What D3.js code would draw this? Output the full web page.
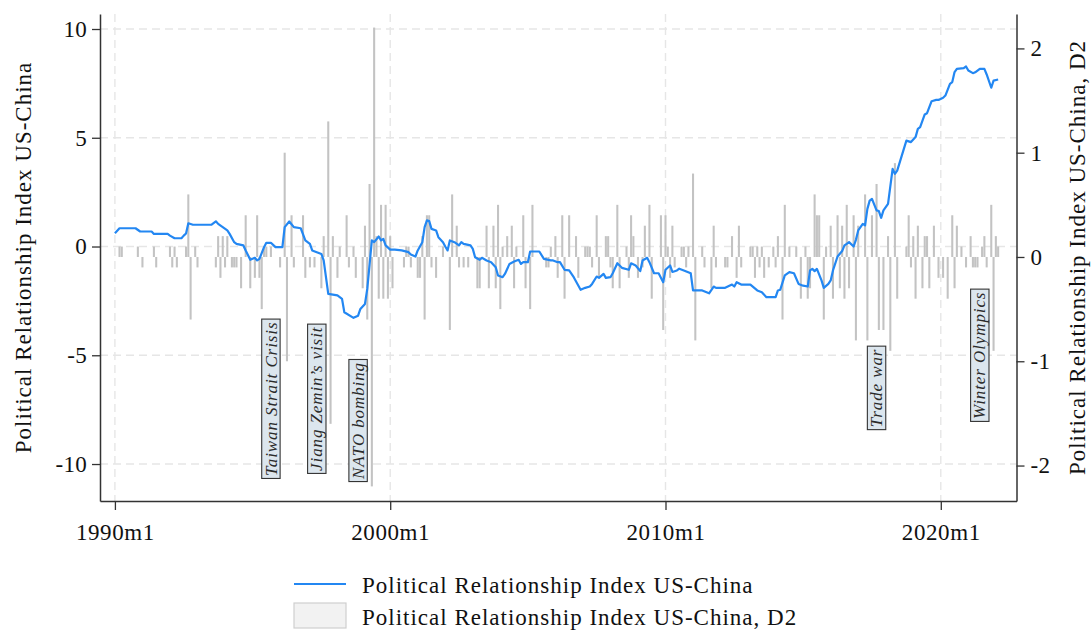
<!DOCTYPE html>
<html>
<head>
<meta charset="utf-8">
<script src="https://cdn.jsdelivr.net/npm/d3@7"></script>
<style>
  html, body { margin: 0; padding: 0; background: #ffffff; }
  svg { display: block; font-family: "Liberation Serif", "Times New Roman", serif; }
</style>
</head>
<body>
<svg id="chart" width="1092" height="630"></svg>
<script>
// Time is counted in months from 1990m1 (= 0).
const xTickMonths = [0, 120, 240, 360];
const xTickLabels = ["1990m1", "2000m1", "2010m1", "2020m1"];
const leftTicks = [-10, -5, 0, 5, 10];
const rightTicks = [-2, -1, 0, 1, 2];

// Political Relationship Index US-China (left axis): month, value
const lineMonth = [
  0, 2, 9, 11, 16, 17, 23, 24, 26, 29, 30, 31, 32, 34, 42, 44, 45, 47, 49, 50,
  52, 53, 56, 57, 59, 61, 62, 63, 65, 66, 68, 70, 73, 74, 76, 78, 81, 83, 85, 86,
  88, 90, 91, 93, 97, 99, 100, 104, 106, 107, 109, 110, 112, 113, 115, 116, 117, 118, 120, 122,
  125, 128, 129, 131, 132, 134, 135, 136, 137, 138, 140, 141, 143, 144, 145, 146, 148, 150, 151, 152,
  155, 156, 157, 159, 160, 162, 164, 166, 167, 169, 170, 172, 174, 176, 177, 178, 180, 181, 185, 187,
  190, 191, 193, 194, 196, 198, 200, 203, 205, 207, 208, 210, 211, 213, 214, 216, 217, 219, 221, 224,
  225, 227, 229, 230, 232, 233, 235, 237, 239, 240, 242, 243, 245, 246, 248, 251, 252, 256, 259, 261,
  262, 266, 269, 270, 271, 273, 277, 280, 282, 284, 288, 289, 290, 292, 294, 296, 298, 300, 302, 303,
  304, 305, 306, 308, 309, 311, 312, 313, 315, 317, 318, 319, 320, 322, 323, 324, 326, 327, 328, 329,
  330, 332, 333, 334, 335, 337, 339, 340, 341, 343, 345, 347, 349, 350, 351, 353, 354, 356, 358, 359,
  361, 362, 364, 365, 366, 367, 370, 371, 372, 374, 375, 377, 379, 380, 382, 383, 385
];
const lineValue = [
  0.61, 0.84, 0.84, 0.69, 0.69, 0.58, 0.58, 0.50, 0.38, 0.38, 0.50, 0.60, 1.07, 1.00, 1.00, 1.16, 1.04, 0.89, 0.74, 0.58,
  0.20, 0.12, 0.05, -0.18, -0.61, -0.52, -0.64, -0.57, -0.03, 0.17, 0.17, -0.03, -0.03, 0.89, 1.15, 0.89, 0.84, 0.28, 0.12, -0.18,
  -0.26, -0.34, -0.64, -2.18, -2.25, -2.41, -3.02, -3.28, -3.18, -2.87, -2.64, -1.95, 0.28, 0.20, 0.46, 0.28, 0.35, 0.05, -0.14, -0.14,
  -0.18, -0.26, -0.37, -0.46, -0.18, 0.20, 0.89, 1.20, 1.17, 0.81, 0.74, 0.43, 0.20, 0.00, -0.18, 0.28, 0.20, 0.05, 0.20, 0.12,
  0.05, -0.11, -0.49, -0.61, -0.52, -0.64, -0.72, -0.95, -1.33, -1.41, -1.26, -0.80, -0.69, -0.61, -0.80, -0.72, -0.72, -0.23, -0.23, -0.57,
  -0.64, -0.64, -0.72, -0.72, -1.07, -1.10, -1.41, -1.99, -1.90, -1.84, -1.72, -1.38, -1.44, -1.26, -1.44, -1.41, -1.23, -0.77, -0.98, -1.07,
  -0.77, -0.87, -1.13, -0.64, -0.52, -0.72, -1.23, -1.23, -1.64, -1.07, -0.87, -1.17, -1.10, -1.02, -1.10, -1.23, -2.02, -2.02, -2.15, -1.84,
  -1.90, -1.90, -1.75, -1.84, -1.64, -1.75, -1.75, -2.02, -2.10, -2.33, -2.33, -2.02, -1.99, -1.33, -1.18, -1.23, -1.72, -1.80, -1.84, -1.10,
  -1.03, -1.13, -1.03, -1.56, -1.90, -1.72, -1.56, -1.10, -0.46, -0.21, 0.05, 0.12, 0.20, 0.00, 0.31, 0.74, 1.04, 0.97, 1.73, 2.11,
  2.19, 1.66, 1.63, 1.32, 1.66, 1.96, 3.57, 3.34, 3.49, 4.18, 4.87, 4.80, 5.03, 5.41, 5.49, 6.07, 6.13, 6.68, 6.74, 6.74,
  6.84, 6.94, 7.48, 7.56, 8.02, 8.17, 8.20, 8.28, 8.09, 7.97, 8.01, 8.17, 8.17, 7.91, 7.30, 7.63, 7.68
];

// Second difference of the index (right axis), one row of 12 months per year from 1990
const barValuesByYear = [
  [0, 0, 0.1, 0.1, 0, 0, 0, 0, 0, 0, 0.1, 0],
  [-0.1, 0, 0, 0, 0, 0.1, -0.1, 0, 0, 0, 0, 0],
  [0.1, -0.1, 0.1, -0.1, 0, 0, 0, 0.1, 0.6, -0.6, 0, 0.1],
  [-0.1, 0, 0, 0, 0, 0, 0, 0, -0.1, 0.2, -0.2, 0.2],
  [-0.1, 0.2, 0, -0.1, -0.1, -0.1, 0, -0.3, 0, 0.4, 0, -0.3],
  [0, -0.2, 0.4, -0.2, -0.5, 0.1, 0.1, 0, 0.1, 0, 0, 0],
  [-0.1, 0, 1.0, -1.0, 0, 0.4, -0.1, 0, 0, 0, 0.4, -0.2],
  [0, -0.1, 0, -0.1, 0, 0, -0.3, 0.2, 0, 1.3, -1.6, 0.2],
  [0, -0.2, 0.1, 0, 0, 0.4, -0.1, 0, 0.1, -0.2, 0, 0],
  [-0.3, 0.3, -0.6, 0.7, -2.2, 2.2, 0.2, -0.4, 0.5, -0.4, 0.5, -0.4],
  [0.2, -0.3, 0, 0, 0, 0, -0.1, 0.1, 0.1, -0.1, 0, 0],
  [-0.2, -0.2, 0.2, -0.6, 0.4, 0.4, -0.1, 0, -0.2, 0, 0, 0.1],
  [0, 0, -0.7, 0.6, 0, 0.3, -0.1, 0, -0.1, 0, -0.1, 0],
  [0, 0, -0.3, -0.3, 0, 0, 0.3, -0.3, 0, 0.3, -0.3, 0.5],
  [-0.5, 0.1, 0, 0.2, 0, 0.3, -0.3, 0.1, 0, 0, 0.4, -0.3],
  [0, -0.5, 0.5, 0, 0, 0, 0, 0, -0.1, -0.1, 0.1, 0],
  [0.2, -0.2, 0, 0.4, -0.4, 0, 0.4, 0, 0, 0.2, -0.2, 0],
  [0, 0.1, 0.1, 0.1, -0.1, 0, 0.4, -0.2, 0, 0, 0.2, 0.2],
  [-0.1, -0.3, 0, 0.5, -0.3, 0, 0, 0.1, -0.2, 0.4, 0.2, 0],
  [-0.2, 0, -0.1, 0.3, 0, 0.5, -0.4, 0, 0, 0, 0.4, -0.7],
  [0.4, 0.1, -0.2, 0.3, -0.1, 0, 0, 0.1, 0.1, -0.1, 0.1, 0],
  [0.8, -0.8, 0, 0, 0.1, -0.1, 0, 0, -0.3, 0.3, -0.1, 0],
  [0, 0, -0.1, -0.1, 0, 0.2, 0, -0.2, 0.3, -0.1, 0, 0],
  [0, 0.1, 0.1, -0.2, 0.1, -0.1, 0.1, -0.2, 0, -0.1, 0, 0.1],
  [-0.1, 0.2, 0, -0.6, 0.5, 0, 0.1, 0, 0, 0.1, 0, -0.4],
  [0, 0.1, -0.4, -0.3, 0, 0.6, 0.4, 0.4, 0, -0.6, 0.1, 0],
  [0.3, -0.4, 0, 0.4, -0.3, 0.3, -0.4, 0.5, -0.3, 0, 0.4, -0.8],
  [0.3, 0, 0, 0.6, -0.8, 0, 0.4, 0, 0.7, -0.7, 0, -0.7],
  [0, 0.2, -0.9, 0, 0.9, -0.4, 0, 0, 0, 0.1, 0.4, -0.1],
  [0.2, -0.4, 0.3, 0, -0.3, 0.2, 0.2, -0.3, 0, 0.3, 0, -0.2],
  [0, -0.2, 0, -0.4, 0, 0.4, -0.3, 0.3, 0, 0.1, 0, -0.1],
  [0, 0.2, -0.1, -0.1, -0.1, 0, 0.1, 0.2, -0.1, 0, 0.5, -0.9],
  [0.2, 0.1]
];

// Event annotations: label, month (centre of the box), left-axis value (centre of the box)
const eventLabels = ["Taiwan Strait Crisis", "Jiang Zemin\u2019s visit", "NATO bombing", "Trade war", "Winter Olympics"];
const eventMonth = [68, 88, 106, 332, 377];
const eventY = [-7, -7, -8, -6.5, -5];

const legendLabels = ["Political Relationship Index US-China", "Political Relationship Index US-China, D2"];
const leftTitle = "Political Relationship Index US-China";
const rightTitle = "Political Relationship Index US-China, D2";

// ---- layout ----
const plot = { left: 100, right: 1016.5, top: 14, bottom: 501 };
const lineColor = "#2387f2";
const barColor = "#c3c3c3";
const gridColor = "#e6e6e6";
const axisColor = "#333333";

const svg = d3.select("#chart");

const x = d3.scaleLinear().domain([-6.5, 393]).range([plot.left, plot.right]);
const yL = d3.scaleLinear().domain([-11.7, 10.69]).range([plot.bottom, plot.top]);
const yR = d3.scaleLinear().domain([-2.34, 2.33]).range([plot.bottom, plot.top]);

// grid
const grid = svg.append("g").attr("class", "grid");
grid.selectAll("line.h").data(leftTicks).join("line")
  .attr("class", "h")
  .attr("x1", plot.left).attr("x2", plot.right)
  .attr("y1", d => yL(d)).attr("y2", d => yL(d))
  .attr("stroke", gridColor).attr("stroke-width", 1.4)
  .attr("stroke-dasharray", "8,5");
grid.selectAll("line.v").data(xTickMonths).join("line")
  .attr("class", "v")
  .attr("y1", plot.top).attr("y2", plot.bottom)
  .attr("x1", d => x(d)).attr("x2", d => x(d))
  .attr("stroke", gridColor).attr("stroke-width", 1.4)
  .attr("stroke-dasharray", "8,5");

// bars (right axis)
const barValues = barValuesByYear.flat();
const barData = barValues.map((v, i) => ({ m: i, v }));
const barW = (x(1) - x(0)) * 0.9;
svg.append("g").attr("class", "bars")
  .selectAll("rect").data(barData.filter(d => d.v !== 0)).join("rect")
  .attr("x", d => x(d.m) - barW / 2)
  .attr("width", barW)
  .attr("y", d => Math.min(yR(d.v), yR(0)))
  .attr("height", d => Math.abs(yR(d.v) - yR(0)))
  .attr("fill", barColor);

// index line (left axis)
const lineData = lineMonth.map((m, i) => ({ m, v: lineValue[i] }));
svg.append("path")
  .datum(lineData)
  .attr("fill", "none")
  .attr("stroke", lineColor)
  .attr("stroke-width", 2.2)
  .attr("stroke-linejoin", "round")
  .attr("d", d3.line().x(d => x(d.m)).y(d => yL(d.v)));

// event annotations
const evG = svg.append("g").attr("class", "events");
eventLabels.forEach((label, i) => {
  const g = evG.append("g")
    .attr("transform", `translate(${x(eventMonth[i])},${yL(eventY[i])}) rotate(-90)`);
  const rect = g.append("rect");
  const t = g.append("text")
    .attr("text-anchor", "middle")
    .attr("dy", "0.33em")
    .attr("font-style", "italic")
    .attr("font-size", 17)
    .attr("letter-spacing", 0.9)
    .attr("fill", "#2a2a2a")
    .text(label);
  const len = t.node().getComputedTextLength();
  const w = len + 5, h = 18.4;
  rect.attr("x", -w / 2).attr("y", -h / 2).attr("width", w).attr("height", h)
    .attr("fill", "#dce6ee").attr("stroke", "#333").attr("stroke-width", 1.1);
});

// axes
function styleAxis(g, size, spacing) {
  g.select(".domain").attr("stroke", axisColor).attr("stroke-width", 1.5);
  g.selectAll(".tick line").attr("stroke", axisColor).attr("stroke-width", 1.3);
  g.selectAll(".tick text")
    .attr("fill", "#111")
    .attr("font-size", size)
    .attr("letter-spacing", spacing)
    .attr("font-family", "'Liberation Serif', 'Times New Roman', serif");
}

const axL = svg.append("g")
  .attr("transform", `translate(${plot.left},0)`)
  .call(d3.axisLeft(yL).tickValues(leftTicks).tickFormat(d => String(d))
    .tickSize(8).tickSizeOuter(0).tickPadding(5));
styleAxis(axL, 23, 0.3);

const axR = svg.append("g")
  .attr("transform", `translate(${plot.right},0)`)
  .call(d3.axisRight(yR).tickValues(rightTicks).tickFormat(d => String(d))
    .tickSize(8).tickSizeOuter(0).tickPadding(6));
styleAxis(axR, 23, 0.3);

const axB = svg.append("g")
  .attr("transform", `translate(0,${plot.bottom})`)
  .call(d3.axisBottom(x).tickValues(xTickMonths).tickFormat((d, i) => xTickLabels[i])
    .tickSize(9).tickSizeOuter(0).tickPadding(14));
styleAxis(axB, 23, 0.6);

// axis titles
const midY = (plot.top + plot.bottom) / 2;
svg.append("text")
  .attr("transform", `translate(23,${midY}) rotate(-90)`)
  .attr("text-anchor", "middle").attr("dy", "0.35em")
  .attr("font-size", 23).attr("letter-spacing", 1).attr("fill", "#111")
  .text(leftTitle);
svg.append("text")
  .attr("transform", `translate(1077,${midY}) rotate(-90)`)
  .attr("text-anchor", "middle").attr("dy", "0.35em")
  .attr("font-size", 23).attr("letter-spacing", 1).attr("fill", "#111")
  .text(rightTitle);

// legend
const leg = svg.append("g").attr("class", "legend");
leg.append("line")
  .attr("x1", 294).attr("x2", 346).attr("y1", 584).attr("y2", 584)
  .attr("stroke", lineColor).attr("stroke-width", 2.2);
leg.append("rect")
  .attr("x", 294).attr("y", 603).attr("width", 52).attr("height", 25)
  .attr("fill", "#f2f2f2").attr("stroke", "#cfcfcf").attr("stroke-width", 1.2);
leg.selectAll("text").data(legendLabels).join("text")
  .attr("x", 362).attr("y", (d, i) => i === 0 ? 585 : 617)
  .attr("dy", "0.35em")
  .attr("font-size", 23).attr("letter-spacing", 1).attr("fill", "#111")
  .text(d => d);
</script>
</body>
</html>
